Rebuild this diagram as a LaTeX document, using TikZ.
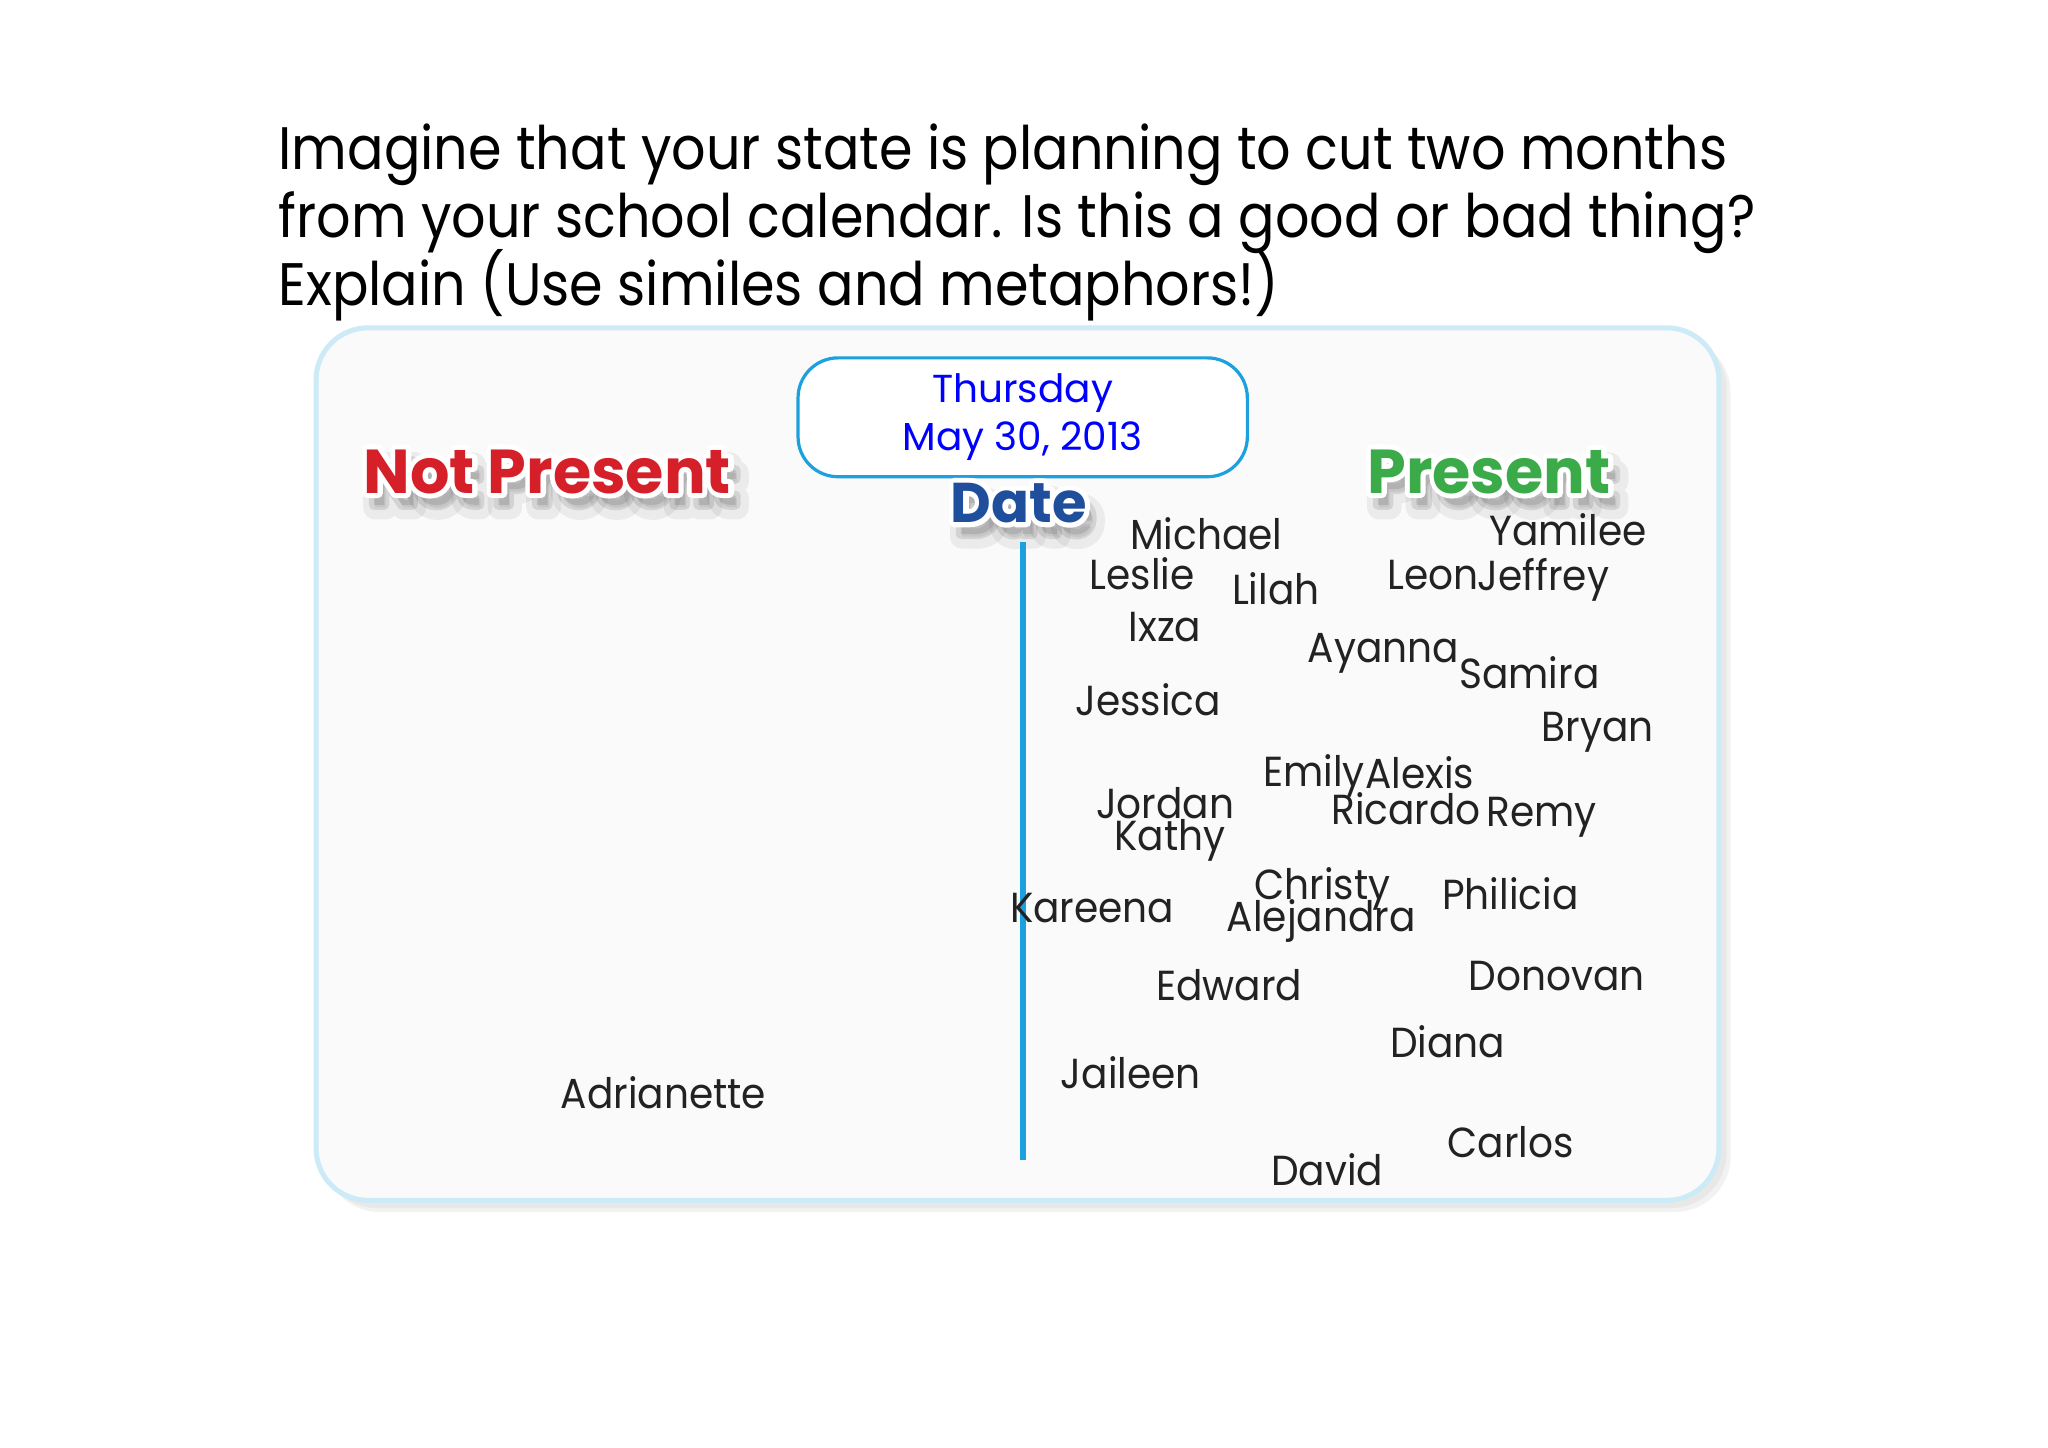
\documentclass[tikz,border=0pt]{standalone}
\usepackage{fontspec}
\setmainfont{Poppins}
\newfontfamily\titlefont{Poppins}[FakeStretch=0.9]
\newfontfamily\namefont{Poppins}[FakeStretch=0.93]
\definecolor{panelline}{HTML}{CDEBF6}
\definecolor{datebox}{HTML}{1BA1DD}
\definecolor{redhead}{HTML}{D5202A}
\definecolor{greenhead}{HTML}{3BAA48}
\definecolor{bluehead}{HTML}{1F4E9C}
\definecolor{namecol}{HTML}{222222}
\newcommand{\strk}[1]{\special{pdf:literal 2 Tr 5 w 1 j}#1\special{pdf:literal 0 Tr 1 w 0 j}}
\newcommand{\softstrk}[1]{\special{pdf:literal 2 Tr 12 w 1 j}#1\special{pdf:literal 0 Tr 1 w 0 j}}
\newcommand{\headtext}[5]{%
  \node[headbase, text=black, opacity=0.06, font=\fontsize{#5}{#5}\bfseries] at ([shift={(6,11)}]#2) {\softstrk{#4}};
  \node[headbase, text=black, opacity=0.10, font=\fontsize{#5}{#5}\bfseries] at ([shift={(5,9)}]#2) {\strk{#4}};
  \node[headbase, text=white, font=\fontsize{#5}{#5}\bfseries] at (#2) {\strk{#4}};
  \node[headbase, text=#3, font=\fontsize{#5}{#5}\bfseries] (#1) at (#2) {#4};
}
\begin{document}
\begin{tikzpicture}[x=0.653pt,y=-0.653pt,
  headbase/.style={inner sep=0pt, anchor=center},
  person/.style={anchor=base west, inner sep=0pt, text=namecol, font=\namefont\fontsize{21}{21}\selectfont},
  titletext/.style={anchor=base west, inner sep=0pt, text=black, font=\titlefont\fontsize{30}{30}\selectfont},
  datetext/.style={anchor=base, inner sep=0pt, text=blue, font=\fontsize{19.5}{19.5}\selectfont}]
\useasboundingbox (0,0) rectangle (1568,1108);
\fill[white] (0,0) rectangle (1568,1108);
% title
\node[titletext] (t1) at (213,130) {Imagine that your state is planning to cut two months};
\node[titletext] (t2) at (213,182) {from your school calendar. Is this a good or bad thing?};
\node[titletext] (t3) at (213,234) {Explain (Use similes and metaphors!)};
% panel shadow and panel
\fill[black, opacity=0.05, rounded corners=28] (248,258) rectangle (1325,928);
\fill[black, opacity=0.04, rounded corners=28] (246,255) rectangle (1322,925);
\draw[panelline, line width=2.5pt, fill=white!98!black, rounded corners=26] (242,251) rectangle (1316,919);
% date box
\draw[datebox, line width=1.6pt, fill=white, rounded corners=20] (611,274) rectangle (955,365);
\node[datetext] (d1) at (783,308) {Thursday};
\node[datetext] (d2) at (783,345) {May 30, 2013};
% headings
\headtext{np}{419,361}{redhead}{Not Present}{31}
\headtext{pr}{1140,361}{greenhead}{Present}{31}
\headtext{dt}{780,385}{bluehead}{Date}{28}
% vertical line
\coordinate (vtop) at (783,415);
\coordinate (vbot) at (783,888);
\draw[datebox, line width=3pt] (vtop) -- (vbot);
% names
\node[person] (michael) at (865,421) {Michael};
\node[person] (yamilee) at (1140,418) {Yamilee};
\node[person] (leslie) at (834,451) {Leslie};
\node[person] (lilah) at (943,463) {Lilah};
\node[person] (leon) at (1062,451) {Leon};
\node[person] (jeffrey) at (1131,452) {Jeffrey};
\node[person] (ixza) at (864,491) {Ixza};
\node[person] (ayanna) at (1001,507) {Ayanna};
\node[person] (samira) at (1117,527) {Samira};
\node[person] (jessica) at (823,548) {Jessica};
\node[person] (bryan) at (1180,568) {Bryan};
\node[person] (emily) at (967,602) {Emily};
\node[person] (alexis) at (1045,604) {Alexis};
\node[person] (jordan) at (839,627) {Jordan};
\node[person] (ricardo) at (1019,631) {Ricardo};
\node[person] (remy) at (1138,633) {Remy};
\node[person] (kathy) at (853,651) {Kathy};
\node[person] (christy) at (960,689) {Christy};
\node[person] (philicia) at (1104,696) {Philicia};
\node[person] (kareena) at (773,706) {Kareena};
\node[person] (alejandra) at (939,713) {Alejandra};
\node[person] (edward) at (885,766) {Edward};
\node[person] (donovan) at (1124,758) {Donovan};
\node[person] (diana) at (1064,810) {Diana};
\node[person] (jaileen) at (812,833) {Jaileen};
\node[person] (adrianette) at (429,849) {Adrianette};
\node[person] (carlos) at (1108,886) {Carlos};
\node[person] (david) at (973,908) {David};
\end{tikzpicture}
\end{document}
